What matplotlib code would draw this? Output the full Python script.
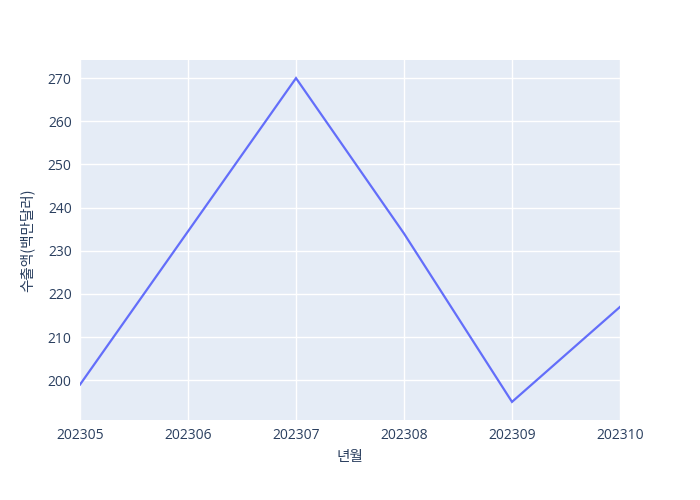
import matplotlib
matplotlib.use("Agg")
import matplotlib.pyplot as plt

months = ["202305", "202306", "202307", "202308", "202309", "202310"]
exports = [199, 234.5, 270, 234, 195, 217]

plt.rcParams['font.family'] = ['Noto Sans CJK KR', 'DejaVu Sans']

fig = plt.figure(figsize=(7, 5), dpi=100)
ax = fig.add_axes([80/700, 80/500, 540/700, 360/500])
ax.set_facecolor('#E5ECF6')
x = list(range(len(months)))
ax.plot(x, exports, color='#636EFA', linewidth=1.6, solid_joinstyle='miter')
ax.set_xlim(0, len(months) - 1)
ax.set_ylim(190.8, 274.2)
ax.set_xticks(x)
ax.set_xticklabels(months)
ax.set_yticks([200, 210, 220, 230, 240, 250, 260, 270])
ax.grid(True, color='white', linewidth=1)
ax.set_axisbelow(True)
for s in ax.spines.values():
    s.set_visible(False)
ax.tick_params(length=0, colors='#2a3f5f', labelsize=10, pad=6)
for lab in ax.get_xticklabels() + ax.get_yticklabels():
    lab.set_family(['Open Sans', 'DejaVu Sans'])
ax.set_xlabel('년월', fontsize=10.5, color='#2a3f5f', labelpad=5)
ax.set_ylabel('수출액(백만달러)', fontsize=10.5, color='#2a3f5f', labelpad=9.5)
fig.savefig('out.png', dpi=100, facecolor='white')
